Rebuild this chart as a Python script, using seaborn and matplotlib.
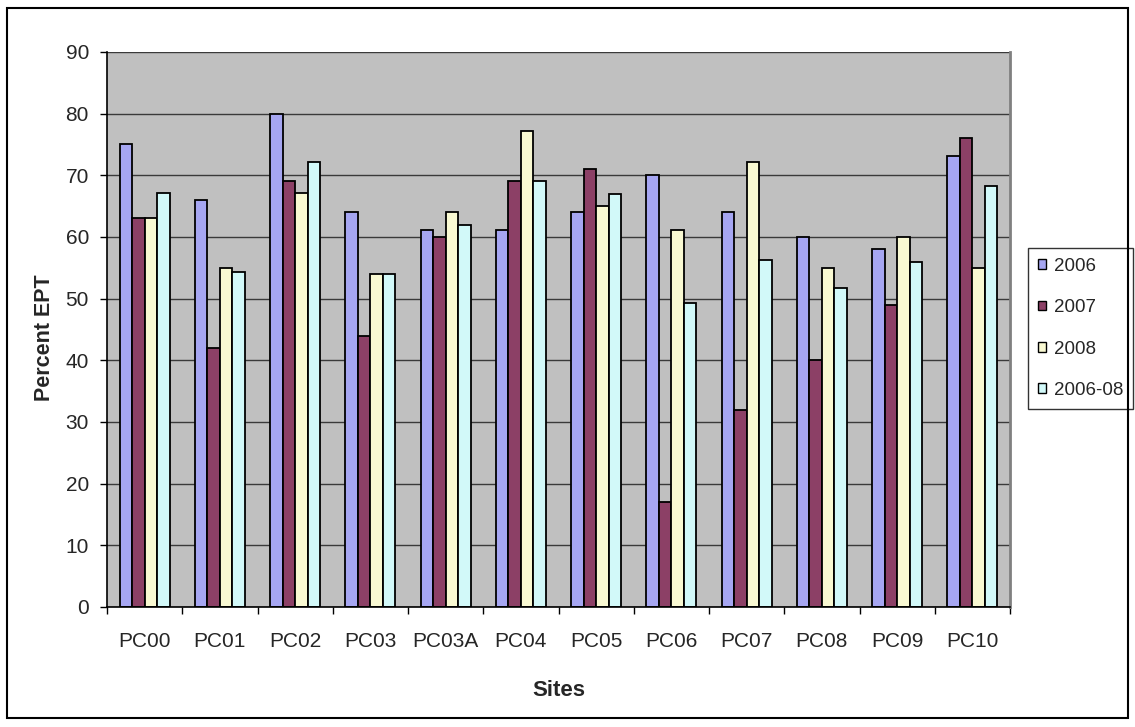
import matplotlib
matplotlib.use("Agg")
import matplotlib.pyplot as plt
import seaborn as sns
import pandas as pd
import numpy as np
from matplotlib.patches import Rectangle

sites = ["PC00", "PC01", "PC02", "PC03", "PC03A", "PC04", "PC05", "PC06", "PC07", "PC08", "PC09", "PC10"]
series_names = ["2006", "2007", "2008", "2006-08"]
v2006 = [75, 66, 80, 64, 61.2, 61.2, 64, 70, 64, 60, 58, 73.2]
v2007 = [63, 42, 69, 44, 60, 69, 71, 17, 32, 40, 49, 76]
v2008 = [63, 55, 67.2, 54, 64, 77.2, 65, 61.2, 72.2, 55, 60, 55]
v0608 = [67.2, 54.3, 72.2, 54, 62, 69, 67, 49.3, 56.2, 51.8, 56, 68.2]
colors = ["#9999FF", "#993366", "#FFFFCC", "#CCFFFF"]

rows = []
for name, vals in zip(series_names, [v2006, v2007, v2008, v0608]):
    for s, v in zip(sites, vals):
        rows.append({"Site": s, "Series": name, "Value": v})
df = pd.DataFrame(rows)

sns.set_style("white")
plt.rcParams["font.family"] = ["Liberation Sans", "DejaVu Sans"]

W, H = 1135, 727
fig = plt.figure(figsize=(W / 100, H / 100), dpi=100)
ax = fig.add_axes([107 / W, 1 - 607 / H, (1010 - 107) / W, (607 - 52) / H])

sns.barplot(data=df, x="Site", y="Value", hue="Series", order=sites, hue_order=series_names,
            palette=colors, width=0.667, edgecolor="black", linewidth=1.3, ax=ax, legend=True)

ax.set_facecolor("#C0C0C0")
ax.set_ylim(0, 90)
ax.set_xlim(-0.5, len(sites) - 0.5)
ax.set_yticks(np.arange(0, 91, 10))
ax.yaxis.grid(True, color="#3a3a3a", linewidth=1.0)
ax.set_axisbelow(True)
ax.tick_params(axis="y", which="major", length=5, width=1, direction="out", labelsize=15,
               color="black", left=True, pad=8)
ax.tick_params(axis="x", which="major", length=0, labelsize=15, pad=18)
ax.set_xticks(np.arange(-0.5, len(sites), 1.0), minor=True)
ax.tick_params(axis="x", which="minor", length=5, width=1, direction="out", color="black", bottom=True)
for side in ["left", "bottom"]:
    ax.spines[side].set_color("black")
    ax.spines[side].set_linewidth(1.2)
ax.spines["top"].set_visible(False)
ax.spines["right"].set_color("#808080")
ax.spines["right"].set_linewidth(2)

ax.set_xlabel("")
ax.set_ylabel("")
fig.text(559 / W, 1 - 690 / H, "Sites", ha="center", va="center", fontsize=16, fontweight="bold")
fig.text(45 / W, 1 - 338 / H, "Percent EPT", ha="center", va="center", rotation=90,
         fontsize=15.5, fontweight="bold")

leg = ax.legend(loc="upper left", bbox_to_anchor=(1028 / W, 1 - 248 / H), bbox_transform=fig.transFigure,
                frameon=True, fancybox=False, edgecolor="black", fontsize=13.5,
                handlelength=0.42, handleheight=0.42, handletextpad=0.45, labelspacing=1.3,
                borderpad=0.52, borderaxespad=0)
leg.get_frame().set_linewidth(1.0)
for h in leg.legend_handles:
    h.set_edgecolor("black")
    h.set_linewidth(1.0)

fig.patches.append(Rectangle((7 / W, 1 - 718 / H), (1128 - 7) / W, (718 - 8) / H,
                             transform=fig.transFigure, fill=False, edgecolor="black", linewidth=1.5))

fig.savefig("out.png", dpi=100)
